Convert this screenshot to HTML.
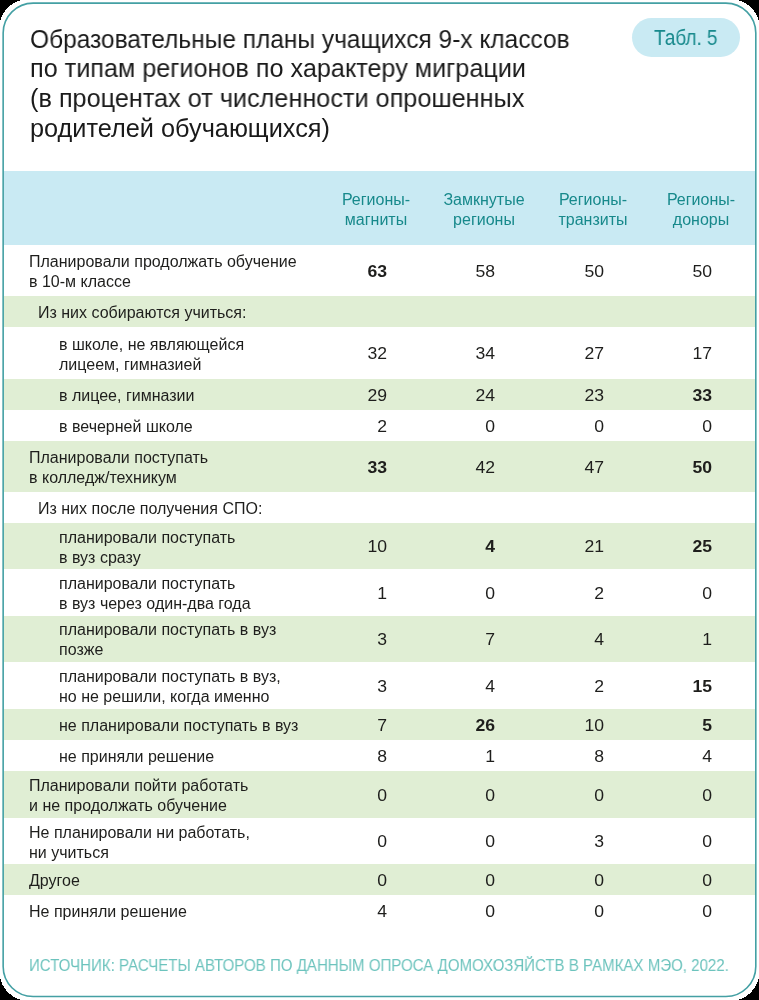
<!DOCTYPE html>
<html><head><meta charset="utf-8"><style>
*{margin:0;padding:0;box-sizing:border-box}
html,body{width:759px;height:1000px;overflow:hidden;background:#fff}
body{position:relative;font-family:"Liberation Sans",sans-serif;color:#1e1e1c;-webkit-font-smoothing:antialiased}
.band{position:absolute;left:3.5px;width:752px}
.b{background:#c9eaf3}
.g{background:#e0eed4}
.t{position:absolute;white-space:nowrap;will-change:transform}
.n{position:absolute;white-space:nowrap;text-align:right;width:40px;will-change:transform;transform:scaleX(1.1);transform-origin:100% 0}
.bold{font-weight:bold}
</style></head><body>

<div class="band b" style="top:171px;height:74px"></div>
<div class="band g" style="top:296px;height:31px"></div>
<div class="band g" style="top:379px;height:31px"></div>
<div class="band g" style="top:441px;height:51px"></div>
<div class="band g" style="top:523px;height:46px"></div>
<div class="band g" style="top:616px;height:46px"></div>
<div class="band g" style="top:709px;height:31px"></div>
<div class="band g" style="top:771px;height:47px"></div>
<div class="band g" style="top:864px;height:31px"></div>
<svg width="759" height="1000" style="position:absolute;left:0;top:0"><g fill="#000" shape-rendering="crispEdges"><path d="M0 0 L22 0 A29 29 0 0 0 0 22 Z"/><path d="M759 0 L737 0 A29 29 0 0 1 759 22 Z"/><path d="M0 1000 L0 977 A29 29 0 0 0 22 1000 Z"/><path d="M759 1000 L737 1000 A29 29 0 0 0 759 977 Z"/></g><rect x="3.15" y="3.1" width="752.65" height="993.4" rx="30" ry="30" fill="none" stroke="#44a0a4" stroke-width="1.6"/></svg>
<div class="t" style="left:30px;top:23.73px;font-size:25.3px;line-height:30px;letter-spacing:0px;color:#1a1a1a;transform:scaleX(0.968);transform-origin:0 0">Образовательные планы учащихся 9-х классов</div>
<div class="t" style="left:30px;top:53.48px;font-size:25.3px;line-height:30px;letter-spacing:0px;color:#1a1a1a;transform:scaleX(0.996);transform-origin:0 0">по типам регионов по характеру миграции</div>
<div class="t" style="left:30px;top:83.23px;font-size:25.3px;line-height:30px;letter-spacing:0px;color:#1a1a1a;transform:scaleX(0.998);transform-origin:0 0">(в процентах от численности опрошенных</div>
<div class="t" style="left:30px;top:112.98px;font-size:25.3px;line-height:30px;letter-spacing:0px;color:#1a1a1a;transform:scaleX(0.999);transform-origin:0 0">родителей обучающихся)</div>
<div style="position:absolute;left:632px;top:18px;width:108px;height:39px;border-radius:19.5px;background:#c9eaf3"></div>
<div class="t" style="left:653.5px;top:23.38px;font-size:22px;line-height:30px;color:#17898c;transform:scaleX(0.864);transform-origin:0 0">Табл. 5</div>
<div class="t" style="left:316px;width:120px;text-align:center;top:189.66px;font-size:16px;line-height:20px;color:#17898b">Регионы-</div>
<div class="t" style="left:316px;width:120px;text-align:center;top:209.96px;font-size:16px;line-height:20px;color:#17898b">магниты</div>
<div class="t" style="left:424px;width:120px;text-align:center;top:189.66px;font-size:16px;line-height:20px;color:#17898b">Замкнутые</div>
<div class="t" style="left:424px;width:120px;text-align:center;top:209.96px;font-size:16px;line-height:20px;color:#17898b">регионы</div>
<div class="t" style="left:533px;width:120px;text-align:center;top:189.66px;font-size:16px;line-height:20px;color:#17898b">Регионы-</div>
<div class="t" style="left:533px;width:120px;text-align:center;top:209.96px;font-size:16px;line-height:20px;color:#17898b">транзиты</div>
<div class="t" style="left:641px;width:120px;text-align:center;top:189.66px;font-size:16px;line-height:20px;color:#17898b">Регионы-</div>
<div class="t" style="left:641px;width:120px;text-align:center;top:209.96px;font-size:16px;line-height:20px;color:#17898b">доноры</div>
<div class="t" style="left:29px;top:251.96px;font-size:16px;line-height:20px;letter-spacing:0px">Планировали продолжать обучение</div>
<div class="t" style="left:29px;top:271.96px;font-size:16px;line-height:20px;letter-spacing:0px">в 10-м классе</div>
<div class="n bold" style="left:347.1px;top:261.71px;font-size:16px;line-height:20px">63</div>
<div class="n" style="left:455.4px;top:261.71px;font-size:16px;line-height:20px">58</div>
<div class="n" style="left:564.0px;top:261.71px;font-size:16px;line-height:20px">50</div>
<div class="n" style="left:672.4px;top:261.71px;font-size:16px;line-height:20px">50</div>
<div class="t" style="left:38.2px;top:302.96px;font-size:16px;line-height:20px;letter-spacing:0px">Из них собираются учиться:</div>
<div class="t" style="left:58.6px;top:334.96px;font-size:16px;line-height:20px;letter-spacing:0px">в школе, не являющейся</div>
<div class="t" style="left:58.6px;top:354.96px;font-size:16px;line-height:20px;letter-spacing:0px">лицеем, гимназией</div>
<div class="n" style="left:347.1px;top:344.21px;font-size:16px;line-height:20px">32</div>
<div class="n" style="left:455.4px;top:344.21px;font-size:16px;line-height:20px">34</div>
<div class="n" style="left:564.0px;top:344.21px;font-size:16px;line-height:20px">27</div>
<div class="n" style="left:672.4px;top:344.21px;font-size:16px;line-height:20px">17</div>
<div class="t" style="left:58.6px;top:385.96px;font-size:16px;line-height:20px;letter-spacing:0px">в лицее, гимназии</div>
<div class="n" style="left:347.1px;top:385.71px;font-size:16px;line-height:20px">29</div>
<div class="n" style="left:455.4px;top:385.71px;font-size:16px;line-height:20px">24</div>
<div class="n" style="left:564.0px;top:385.71px;font-size:16px;line-height:20px">23</div>
<div class="n bold" style="left:672.4px;top:385.71px;font-size:16px;line-height:20px">33</div>
<div class="t" style="left:58.6px;top:416.96px;font-size:16px;line-height:20px;letter-spacing:0px">в вечерней школе</div>
<div class="n" style="left:347.1px;top:416.71px;font-size:16px;line-height:20px">2</div>
<div class="n" style="left:455.4px;top:416.71px;font-size:16px;line-height:20px">0</div>
<div class="n" style="left:564.0px;top:416.71px;font-size:16px;line-height:20px">0</div>
<div class="n" style="left:672.4px;top:416.71px;font-size:16px;line-height:20px">0</div>
<div class="t" style="left:29px;top:447.96px;font-size:16px;line-height:20px;letter-spacing:0px">Планировали поступать</div>
<div class="t" style="left:29px;top:467.96px;font-size:16px;line-height:20px;letter-spacing:0px">в колледж/техникум</div>
<div class="n bold" style="left:347.1px;top:457.71px;font-size:16px;line-height:20px">33</div>
<div class="n" style="left:455.4px;top:457.71px;font-size:16px;line-height:20px">42</div>
<div class="n" style="left:564.0px;top:457.71px;font-size:16px;line-height:20px">47</div>
<div class="n bold" style="left:672.4px;top:457.71px;font-size:16px;line-height:20px">50</div>
<div class="t" style="left:37.9px;top:498.96px;font-size:16px;line-height:20px;letter-spacing:0px">Из них после получения СПО:</div>
<div class="t" style="left:58.6px;top:527.96px;font-size:16px;line-height:20px;letter-spacing:0px">планировали поступать</div>
<div class="t" style="left:58.6px;top:547.96px;font-size:16px;line-height:20px;letter-spacing:0px">в вуз сразу</div>
<div class="n" style="left:347.1px;top:537.21px;font-size:16px;line-height:20px">10</div>
<div class="n bold" style="left:455.4px;top:537.21px;font-size:16px;line-height:20px">4</div>
<div class="n" style="left:564.0px;top:537.21px;font-size:16px;line-height:20px">21</div>
<div class="n bold" style="left:672.4px;top:537.21px;font-size:16px;line-height:20px">25</div>
<div class="t" style="left:58.6px;top:573.96px;font-size:16px;line-height:20px;letter-spacing:0px">планировали поступать</div>
<div class="t" style="left:58.6px;top:593.96px;font-size:16px;line-height:20px;letter-spacing:0px">в вуз через один-два года</div>
<div class="n" style="left:347.1px;top:583.71px;font-size:16px;line-height:20px">1</div>
<div class="n" style="left:455.4px;top:583.71px;font-size:16px;line-height:20px">0</div>
<div class="n" style="left:564.0px;top:583.71px;font-size:16px;line-height:20px">2</div>
<div class="n" style="left:672.4px;top:583.71px;font-size:16px;line-height:20px">0</div>
<div class="t" style="left:58.6px;top:620.46px;font-size:16px;line-height:20px;letter-spacing:0px">планировали поступать в вуз</div>
<div class="t" style="left:58.6px;top:640.46px;font-size:16px;line-height:20px;letter-spacing:0px">позже</div>
<div class="n" style="left:347.1px;top:630.21px;font-size:16px;line-height:20px">3</div>
<div class="n" style="left:455.4px;top:630.21px;font-size:16px;line-height:20px">7</div>
<div class="n" style="left:564.0px;top:630.21px;font-size:16px;line-height:20px">4</div>
<div class="n" style="left:672.4px;top:630.21px;font-size:16px;line-height:20px">1</div>
<div class="t" style="left:58.6px;top:666.96px;font-size:16px;line-height:20px;letter-spacing:0px">планировали поступать в вуз,</div>
<div class="t" style="left:58.6px;top:686.96px;font-size:16px;line-height:20px;letter-spacing:0px">но не решили, когда именно</div>
<div class="n" style="left:347.1px;top:676.71px;font-size:16px;line-height:20px">3</div>
<div class="n" style="left:455.4px;top:676.71px;font-size:16px;line-height:20px">4</div>
<div class="n" style="left:564.0px;top:676.71px;font-size:16px;line-height:20px">2</div>
<div class="n bold" style="left:672.4px;top:676.71px;font-size:16px;line-height:20px">15</div>
<div class="t" style="left:58.6px;top:715.96px;font-size:16px;line-height:20px;letter-spacing:0px">не планировали поступать в вуз</div>
<div class="n" style="left:347.1px;top:715.71px;font-size:16px;line-height:20px">7</div>
<div class="n bold" style="left:455.4px;top:715.71px;font-size:16px;line-height:20px">26</div>
<div class="n" style="left:564.0px;top:715.71px;font-size:16px;line-height:20px">10</div>
<div class="n bold" style="left:672.4px;top:715.71px;font-size:16px;line-height:20px">5</div>
<div class="t" style="left:58.6px;top:746.96px;font-size:16px;line-height:20px;letter-spacing:0px">не приняли решение</div>
<div class="n" style="left:347.1px;top:746.71px;font-size:16px;line-height:20px">8</div>
<div class="n" style="left:455.4px;top:746.71px;font-size:16px;line-height:20px">1</div>
<div class="n" style="left:564.0px;top:746.71px;font-size:16px;line-height:20px">8</div>
<div class="n" style="left:672.4px;top:746.71px;font-size:16px;line-height:20px">4</div>
<div class="t" style="left:29px;top:775.96px;font-size:16px;line-height:20px;letter-spacing:0px">Планировали пойти работать</div>
<div class="t" style="left:29px;top:795.96px;font-size:16px;line-height:20px;letter-spacing:0px">и не продолжать обучение</div>
<div class="n" style="left:347.1px;top:785.71px;font-size:16px;line-height:20px">0</div>
<div class="n" style="left:455.4px;top:785.71px;font-size:16px;line-height:20px">0</div>
<div class="n" style="left:564.0px;top:785.71px;font-size:16px;line-height:20px">0</div>
<div class="n" style="left:672.4px;top:785.71px;font-size:16px;line-height:20px">0</div>
<div class="t" style="left:29px;top:822.96px;font-size:16px;line-height:20px;letter-spacing:0px">Не планировали ни работать,</div>
<div class="t" style="left:29px;top:842.96px;font-size:16px;line-height:20px;letter-spacing:0px">ни учиться</div>
<div class="n" style="left:347.1px;top:832.21px;font-size:16px;line-height:20px">0</div>
<div class="n" style="left:455.4px;top:832.21px;font-size:16px;line-height:20px">0</div>
<div class="n" style="left:564.0px;top:832.21px;font-size:16px;line-height:20px">3</div>
<div class="n" style="left:672.4px;top:832.21px;font-size:16px;line-height:20px">0</div>
<div class="t" style="left:29px;top:870.96px;font-size:16px;line-height:20px;letter-spacing:0px">Другое</div>
<div class="n" style="left:347.1px;top:870.71px;font-size:16px;line-height:20px">0</div>
<div class="n" style="left:455.4px;top:870.71px;font-size:16px;line-height:20px">0</div>
<div class="n" style="left:564.0px;top:870.71px;font-size:16px;line-height:20px">0</div>
<div class="n" style="left:672.4px;top:870.71px;font-size:16px;line-height:20px">0</div>
<div class="t" style="left:29px;top:902.46px;font-size:16px;line-height:20px;letter-spacing:0px">Не приняли решение</div>
<div class="n" style="left:347.1px;top:901.71px;font-size:16px;line-height:20px">4</div>
<div class="n" style="left:455.4px;top:901.71px;font-size:16px;line-height:20px">0</div>
<div class="n" style="left:564.0px;top:901.71px;font-size:16px;line-height:20px">0</div>
<div class="n" style="left:672.4px;top:901.71px;font-size:16px;line-height:20px">0</div>
<div class="t" style="left:29.2px;top:955.48px;font-size:16.5px;line-height:20px;letter-spacing:0px;color:#6cc3bd;transform:scaleX(0.913);transform-origin:0 0">ИСТОЧНИК: РАСЧЕТЫ АВТОРОВ ПО ДАННЫМ ОПРОСА ДОМОХОЗЯЙСТВ В РАМКАХ МЭО, 2022.</div>
</body></html>
